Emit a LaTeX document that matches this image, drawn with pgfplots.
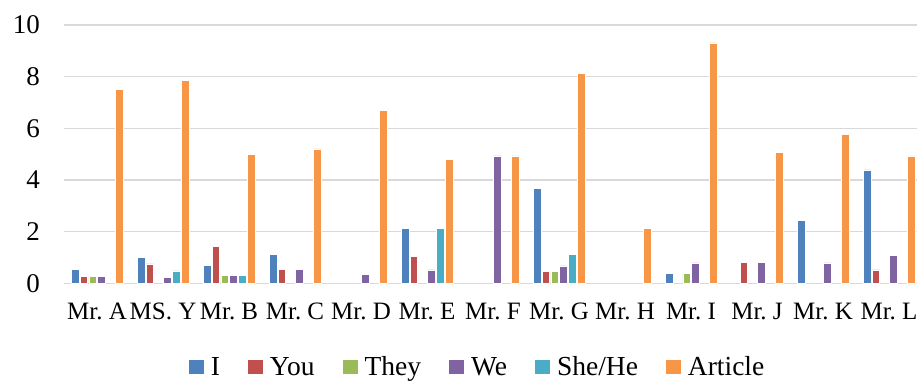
\documentclass[border=0pt]{standalone}
\usepackage{fontspec}
\setmainfont{Liberation Serif}
\usepackage{pgfplots}
\pgfplotsset{compat=1.18}
\definecolor{cI}{HTML}{4F81BD}
\definecolor{cYou}{HTML}{C0504D}
\definecolor{cThey}{HTML}{9BBB59}
\definecolor{cWe}{HTML}{8064A2}
\definecolor{cShe}{HTML}{4BACC6}
\definecolor{cArt}{HTML}{F79646}
\definecolor{gridc}{HTML}{D9D9D9}
\frenchspacing
\begin{document}
\begin{tikzpicture}
\useasboundingbox (-64pt,-96.7pt) rectangle (853pt,283.3pt);
\clip (-64pt,-96.7pt) rectangle (853pt,283.3pt);
\begin{axis}[
  at={(0pt,0pt)}, anchor=south west,
  scale only axis, width=858pt, height=258.3pt,
  xmin=-0.5, xmax=12.5, ymin=0, ymax=10,
  enlargelimits=false,
  ybar=1.3pt, bar width=7.5pt,
  xtick={0,...,12},
  xticklabels={Mr. A,MS. Y,Mr. B,Mr. C,Mr. D,Mr. E,Mr. F,Mr. G,Mr. H,Mr. I,Mr. J,Mr. K,Mr. L},
  ytick={0,2,...,10},
  ymajorgrids, major grid style={gridc, line width=1.2pt},
  axis line style={draw=none},
  major tick length=0pt,
  tick style={draw=none},
  /pgf/number format/assume math mode=true,
  y tick label style={font=\fontsize{27}{31}\selectfont, inner sep=0pt, anchor=east, xshift=-24pt},
  x tick label style={font=\fontsize{25}{29}\selectfont, inner sep=0pt, anchor=north, yshift=-19.5pt},
  legend columns=-1,
  legend style={draw=none, fill=none, at={(0.482,-0.324)}, anchor=center,
    font=\fontsize{27.5}{32}\selectfont,
    /tikz/every even column/.append style={column sep=26pt},
    /tikz/every odd column/.append style={column sep=5pt}},
  legend image code/.code={\fill[#1,draw=none] (0pt,-7pt) rectangle (15pt,7pt);},
  every axis plot/.append style={draw=white, line width=0.5pt},
]
\addplot[fill=cI] coordinates {(0,0.55) (1,1.0) (2,0.70) (3,1.13) (5,2.13) (7,3.68) (9,0.37) (11,2.45) (12,4.39)};
\addplot[fill=cYou] coordinates {(0,0.28) (1,0.75) (2,1.42) (3,0.55) (5,1.05) (7,0.45) (10,0.81) (12,0.52)};
\addplot[fill=cThey] coordinates {(0,0.28) (2,0.32) (7,0.45) (9,0.37)};
\addplot[fill=cWe] coordinates {(0,0.28) (1,0.23) (2,0.32) (3,0.55) (4,0.35) (5,0.52) (6,4.93) (7,0.67) (9,0.79) (10,0.81) (11,0.79) (12,1.07)};
\addplot[fill=cShe] coordinates {(1,0.48) (2,0.32) (5,2.13) (7,1.13)};
\addplot[fill=cArt] coordinates {(0,7.51) (1,7.87) (2,5.0) (3,5.2) (4,6.70) (5,4.80) (6,4.93) (7,8.13) (8,2.13) (9,9.31) (10,5.06) (11,5.78) (12,4.93)};
\legend{I,You,They,We,She/He,Article}
\end{axis}
\end{tikzpicture}
\end{document}
